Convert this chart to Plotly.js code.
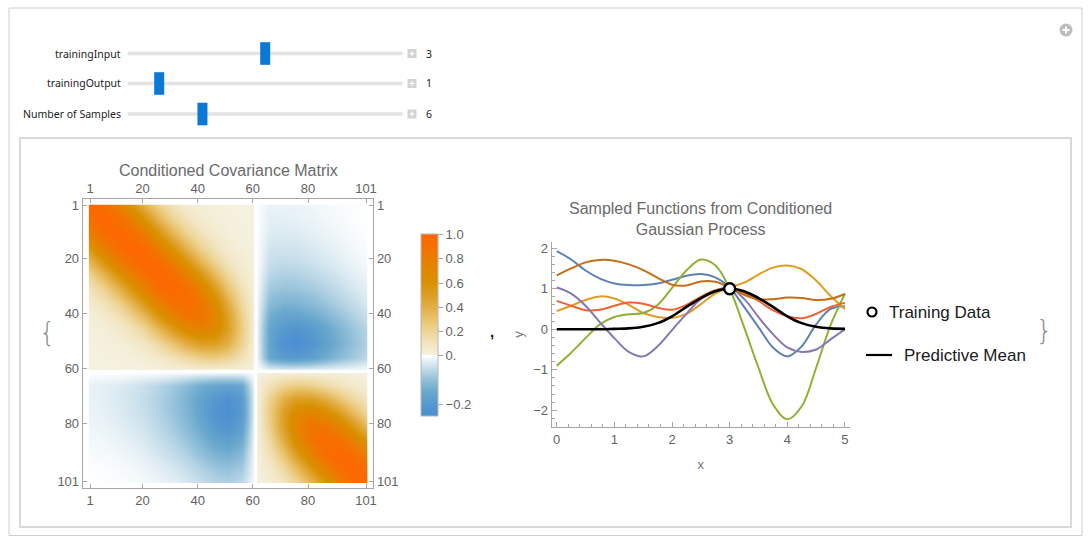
<!DOCTYPE html>
<html>
<head>
<meta charset="utf-8">
<script src="https://cdn.plot.ly/plotly-3.0.1.min.js"></script>
<style>
html,body{margin:0;padding:0;background:#ffffff;}
#chart{width:1091px;height:537px;}
</style>
</head>
<body>
<div id="chart"></div>
<script>
// ------------------------- DATA -------------------------
// Manipulate controls
const sliderLabels = ["trainingInput", "trainingOutput", "Number of Samples"];
const sliderValues = [3, 1, 6];
const sliderMin = [1, 0, 1];
const sliderMax = [5, 10, 20];

// Conditioned covariance matrix (101x101), read on every 5th row/column
const matrixIdx = [1,6,11,16,21,26,31,36,41,46,51,56,61,66,71,76,81,86,91,96,101];
const matrixTicks = [1,20,40,60,80,101];
const trainingIndex = 61;
// upper triangle, row i holds columns i..20
const covUpper = [
 [1.000,0.939,0.779,0.570,0.368,0.210,0.105,0.047,0.018,0.006,0.002,0.001,0,-0.020,-0.020,-0.018,-0.014,-0.010,-0.006,-0.003,-0.001],
 [1.000,0.939,0.779,0.570,0.368,0.210,0.105,0.047,0.018,0.006,0.001,0,-0.025,-0.025,-0.022,-0.018,-0.013,-0.008,-0.004,-0.002],
 [1.000,0.939,0.779,0.570,0.368,0.209,0.105,0.046,0.017,0.005,0,-0.030,-0.032,-0.030,-0.025,-0.018,-0.012,-0.007,-0.003],
 [1.000,0.939,0.778,0.569,0.367,0.207,0.102,0.042,0.012,0,-0.040,-0.042,-0.040,-0.034,-0.026,-0.018,-0.011,-0.006],
 [1.000,0.939,0.777,0.566,0.361,0.199,0.091,0.030,0,-0.050,-0.055,-0.052,-0.045,-0.036,-0.026,-0.017,-0.010],
 [0.998,0.934,0.769,0.553,0.341,0.173,0.061,0,-0.065,-0.072,-0.070,-0.062,-0.050,-0.038,-0.026,-0.016],
 [0.989,0.917,0.740,0.510,0.286,0.111,0,-0.085,-0.095,-0.093,-0.083,-0.068,-0.053,-0.038,-0.025],
 [0.956,0.862,0.659,0.407,0.171,0,-0.110,-0.125,-0.122,-0.110,-0.092,-0.072,-0.053,-0.036],
 [0.865,0.730,0.492,0.224,0,-0.140,-0.165,-0.165,-0.148,-0.125,-0.098,-0.073,-0.052],
 [0.675,0.496,0.244,0,-0.160,-0.200,-0.215,-0.195,-0.160,-0.125,-0.093,-0.068],
 [0.394,0.208,0,-0.165,-0.225,-0.240,-0.215,-0.175,-0.135,-0.100,-0.075],
 [0.118,0,-0.155,-0.190,-0.195,-0.175,-0.145,-0.112,-0.085,-0.062],
 [0,0,0,0,0,0,0,0,0],
 [0.118,0.208,0.244,0.224,0.171,0.111,0.061,0.030],
 [0.394,0.496,0.492,0.407,0.286,0.173,0.091],
 [0.675,0.730,0.659,0.510,0.341,0.199],
 [0.865,0.862,0.740,0.553,0.361],
 [0.956,0.917,0.769,0.566],
 [0.989,0.934,0.777],
 [0.998,0.939],
 [1.000]
];
const colorbarTicks = [1.0, 0.8, 0.6, 0.4, 0.2, 0, -0.2];
const colorbarLabels = ["1.0", "0.8", "0.6", "0.4", "0.2", "0.", "\u22120.2"];

// Sampled functions
const xGrid = [0,0.25,0.5,0.75,1,1.25,1.5,1.75,2,2.25,2.5,2.75,3,3.25,3.5,3.75,4,4.25,4.5,4.75,5];
const sampleBlue   = [1.93,1.72,1.45,1.25,1.13,1.09,1.09,1.13,1.22,1.32,1.36,1.28,1.03,0.55,0.05,-0.45,-0.67,-0.42,0.12,0.50,0.57];
const sampleGold   = [0.45,0.58,0.72,0.81,0.76,0.60,0.40,0.30,0.28,0.38,0.62,0.88,1.03,1.15,1.35,1.52,1.57,1.48,1.20,0.82,0.50];
const sampleGreen  = [-0.90,-0.58,-0.22,0.12,0.30,0.37,0.40,0.60,1.02,1.45,1.72,1.58,1.00,0.05,-0.95,-1.85,-2.22,-1.90,-0.95,0.10,0.88];
const sampleRed    = [0.70,0.58,0.47,0.48,0.58,0.66,0.63,0.53,0.48,0.60,0.80,0.96,1.02,0.90,0.70,0.47,0.32,0.27,0.38,0.55,0.65];
const samplePurple = [1.03,0.88,0.58,0.17,-0.22,-0.56,-0.67,-0.42,-0.02,0.38,0.75,0.95,1.02,0.75,0.30,-0.12,-0.45,-0.56,-0.50,-0.25,0.00];
const sampleBrown  = [1.33,1.50,1.65,1.71,1.69,1.60,1.46,1.27,1.10,1.08,1.18,1.17,1.03,0.85,0.74,0.74,0.78,0.77,0.72,0.75,0.87];
const predictiveMean = [0,0,0,0,0.01,0.02,0.06,0.15,0.32,0.55,0.77,0.94,1.00,0.94,0.77,0.55,0.32,0.15,0.06,0.02,0.01];
const trainingX = [3];
const trainingY = [1];
const sampleNames = ["Sample 1","Sample 2","Sample 3","Sample 4","Sample 5","Sample 6"];
const sampleColors = ["#5e81b5","#e19c24","#8fb032","#eb6235","#8778b3","#c56e1a"];

// ------------------------- BUILD -------------------------
const W = 1091, H = 537;
const fx = p => p / W;
const fy = p => 1 - p / H;
const FONT = '"Liberation Sans", Arial, sans-serif';
const UIFONT = '"Noto Sans", "Open Sans", sans-serif';
const TICKGRAY = '#636363';
const AXGRAY = '#a6a6a6';

// full symmetric matrix from the upper triangle
const n = matrixIdx.length;
const cov = [];
for (let i = 0; i < n; i++) {
  cov.push([]);
  for (let j = 0; j < n; j++) {
    cov[i].push(i <= j ? covUpper[i][j - i] : covUpper[j][i - j]);
  }
}
// colour coordinate: legend of the original stretches the negative side by 2
const toColor = v => (v < 0 ? 2 * v : v);
const zColor = cov.map(r => r.map(toColor));

// frame geometry (pixels)
const frameL = 82.7, frameR = 373.3, frameT = 199.3, frameB = 488.3;
const frameXRange = [-1.645, 103.645];
const frameYRange = [103.4, -1.4];
const lin = (v, r0, r1, p0, p1) => p0 + (v - r0) / (r1 - r0) * (p1 - p0);
const cellLo = matrixIdx[0] - 0.5, cellHi = matrixIdx[n - 1] + 0.5;
const imgL = lin(cellLo, frameXRange[0], frameXRange[1], frameL, frameR);
const imgR = lin(cellHi, frameXRange[0], frameXRange[1], frameL, frameR);
const imgT = lin(cellLo, frameYRange[1], frameYRange[0], frameT, frameB);
const imgB = lin(cellHi, frameYRange[1], frameYRange[0], frameT, frameB);

const colorscale = [
  [0.0, '#4a8cd4'],
  [0.0667, '#5699cf'],
  [0.1333, '#6aa8cd'],
  [0.2, '#93c0da'],
  [0.2667, '#c8dfeb'],
  [0.3333, '#ffffff'],
  [0.33345, '#f5f1df'],
  [0.4, '#f2e4bd'],
  [0.4667, '#eed496'],
  [0.5333, '#e9c26a'],
  [0.6, '#e3ae45'],
  [0.6667, '#dd9e22'],
  [0.7333, '#d99100'],
  [0.8, '#e18700'],
  [0.8667, '#eb7c00'],
  [0.9333, '#f57100'],
  [1.0, '#ff6600']
];

const traces = [];
// empty traces so that the frame axes get drawn
traces.push({type:'scatter', x:[], y:[], xaxis:'x', yaxis:'y', hoverinfo:'skip', showlegend:false});
traces.push({type:'scatter', x:[], y:[], xaxis:'x2', yaxis:'y2', hoverinfo:'skip', showlegend:false});

traces.push({
  type:'heatmap', xaxis:'x3', yaxis:'y3',
  x: matrixIdx, y: matrixIdx, z: zColor, customdata: cov,
  hovertemplate:'%{y}, %{x}: %{customdata}<extra></extra>',
  zsmooth:'best', zmin: toColor(-0.25), zmax: 1, colorscale: colorscale,
  colorbar: {
    x: fx(421), xanchor:'left', xpad:0,
    y: fy(234.5), yanchor:'top', ypad:0,
    len: 182, lenmode:'pixels', thickness:17, thicknessmode:'pixels',
    outlinewidth:1, outlinecolor:'#b8b8b8', borderwidth:0,
    ticks:'outside', ticklen:5, tickcolor:AXGRAY, tickwidth:1,
    tickvals: colorbarTicks.map(toColor), ticktext: colorbarLabels,
    tickfont:{family:FONT, size:13, color:TICKGRAY}
  }
});
// zero-variance row and column of the training input
const whiteScale = [[0,'#ffffff'],[1,'#ffffff']];
traces.push({type:'heatmap', xaxis:'x3', yaxis:'y3', z:[[0]],
  x:[trainingIndex - 0.5, trainingIndex + 0.5], y:[cellLo, cellHi],
  colorscale:whiteScale, showscale:false, hoverinfo:'skip'});
traces.push({type:'heatmap', xaxis:'x3', yaxis:'y3', z:[[0]],
  x:[cellLo, cellHi], y:[trainingIndex - 0.5, trainingIndex + 0.5],
  colorscale:whiteScale, showscale:false, hoverinfo:'skip'});

// sampled functions
const samples = [sampleBlue, sampleGold, sampleGreen, sampleRed, samplePurple, sampleBrown];
samples.forEach((s, k) => {
  traces.push({type:'scatter', mode:'lines', xaxis:'x4', yaxis:'y4',
    x: xGrid, y: s, name: sampleNames[k],
    line:{color: sampleColors[k], width:2, shape:'spline', smoothing:1}});
});
traces.push({type:'scatter', mode:'lines', xaxis:'x4', yaxis:'y4',
  x: xGrid, y: predictiveMean, name:'Predictive Mean',
  line:{color:'#000000', width:2.6, shape:'spline', smoothing:1}});
traces.push({type:'scatter', mode:'markers', xaxis:'x4', yaxis:'y4',
  x: trainingX, y: trainingY, name:'Training Data',
  marker:{symbol:'circle', size:11, color:'#ffffff', line:{color:'#000000', width:2.4}}});

// axes
const frameAxis = {
  showline:true, linecolor:AXGRAY, linewidth:1, mirror:false,
  ticks:'inside', ticklen:4, tickcolor:AXGRAY, tickwidth:1,
  tickmode:'array', tickvals: matrixTicks,
  tickfont:{family:FONT, size:13, color:TICKGRAY},
  showgrid:false, zeroline:false, fixedrange:true
};
const plotAxis = {
  showline:true, linecolor:AXGRAY, linewidth:1,
  ticks:'inside', ticklen:5, tickcolor:AXGRAY, tickwidth:1,
  tick0:0, dtick:1,
  minor:{ticks:'inside', ticklen:3, tickcolor:AXGRAY, tick0:0, dtick:0.2, showgrid:false},
  tickfont:{family:FONT, size:13, color:TICKGRAY},
  showgrid:false, zeroline:false, fixedrange:true
};

// shapes and annotations for the Manipulate panel
const shapes = [];
const annotations = [];
const rectPx = (x0, y0, x1, y1, o) => Object.assign({type:'rect', xref:'paper', yref:'paper',
  x0:fx(x0), x1:fx(x1), y0:fy(y1), y1:fy(y0), layer:'above'}, o);
const linePx = (x0, y0, x1, y1, o) => Object.assign({type:'line', xref:'paper', yref:'paper',
  x0:fx(x0), x1:fx(x1), y0:fy(y0), y1:fy(y1), layer:'above'}, o);
const textPx = (x, y, t, o) => Object.assign({xref:'paper', yref:'paper', x:fx(x), y:fy(y),
  text:t, showarrow:false, xanchor:'center', yanchor:'middle'}, o);

shapes.push(rectPx(9, 8, 1082, 535.5, {line:{color:'#cfcfcf', width:1}}));
shapes.push(rectPx(20, 138, 1071, 527, {line:{color:'#d9d9d9', width:2}}));
// add-panel icon
shapes.push({type:'circle', xref:'paper', yref:'paper', x0:fx(1059.5), x1:fx(1072.5), y0:fy(36.5), y1:fy(23.5),
  fillcolor:'#bdbdbd', line:{width:0}, layer:'above'});
shapes.push(linePx(1062.5, 30, 1069.5, 30, {line:{color:'#ffffff', width:2}}));
shapes.push(linePx(1066, 26.5, 1066, 33.5, {line:{color:'#ffffff', width:2}}));

const trackX0 = 127.7, trackX1 = 402.7, thumbW = 10;
const rowY = [53.5, 83.5, 114];
sliderLabels.forEach((lab, k) => {
  const y = rowY[k];
  annotations.push(textPx(123, y, lab, {xanchor:'right', font:{family:UIFONT, size:10.5, color:'#222222'}}));
  shapes.push(rectPx(trackX0, y - 1.7, trackX1, y + 1.7, {fillcolor:'#e3e3e3', line:{width:0}}));
  const frac = (sliderValues[k] - sliderMin[k]) / (sliderMax[k] - sliderMin[k]);
  const cx = trackX0 + thumbW / 2 + frac * (trackX1 - trackX0 - thumbW);
  shapes.push(rectPx(cx - thumbW / 2, y - 11.3, cx + thumbW / 2, y + 11.3, {fillcolor:'#0b78d8', line:{width:0}}));
  shapes.push(rectPx(407.5, y - 4.5, 416.5, y + 4.5, {fillcolor:'#d2d2d2', line:{width:0}}));
  shapes.push(linePx(409.5, y, 414.5, y, {line:{color:'#ffffff', width:1.2}}));
  shapes.push(linePx(412, y - 2.5, 412, y + 2.5, {line:{color:'#ffffff', width:1.2}}));
  annotations.push(textPx(424, y, String(sliderValues[k]), {xanchor:'left', font:{family:UIFONT, size:10.5, color:'#222222'}}));
});

// titles
annotations.push(textPx(228, 170.5, 'Conditioned Covariance Matrix', {font:{family:FONT, size:16, color:'#6a6a6a'}}));
annotations.push(textPx(700, 218.5, 'Sampled Functions from Conditioned<br>Gaussian Process', {font:{family:FONT, size:16, color:'#6a6a6a'}}));
// list braces and separator
annotations.push(textPx(47, 332, '{', {font:{family:'"DejaVu Sans", sans-serif', size:26, color:'#8a8a8a', weight:200}}));
annotations.push(textPx(1044, 330, '}', {font:{family:'"DejaVu Sans", sans-serif', size:26, color:'#8a8a8a', weight:200}}));
annotations.push(textPx(492, 331, '<b>,</b>', {font:{family:FONT, size:15, color:'#111111'}}));
// legend
shapes.push({type:'circle', xref:'paper', yref:'paper', x0:fx(867.5), x1:fx(876.5), y0:fy(316.5), y1:fy(307.5),
  fillcolor:'#ffffff', line:{color:'#000000', width:2.2}, layer:'above'});
annotations.push(textPx(887, 312, 'Training Data', {xanchor:'left', font:{family:FONT, size:17, color:'#1a1a1a'}}));
shapes.push(linePx(866, 355, 892, 355, {line:{color:'#000000', width:2.2}}));
annotations.push(textPx(902, 355, 'Predictive Mean', {xanchor:'left', font:{family:FONT, size:17, color:'#1a1a1a'}}));

const layout = {
  width: W, height: H,
  margin:{l:0, r:0, t:0, b:0, pad:0},
  paper_bgcolor:'#ffffff', plot_bgcolor:'rgba(0,0,0,0)',
  showlegend:false,
  font:{family:FONT, color:TICKGRAY},
  xaxis: Object.assign({}, frameAxis, {domain:[fx(frameL), fx(frameR)], range:frameXRange, anchor:'y', side:'bottom'}),
  xaxis2: Object.assign({}, frameAxis, {overlaying:'x', range:frameXRange, anchor:'y', side:'top'}),
  yaxis: Object.assign({}, frameAxis, {domain:[fy(frameB), fy(frameT)], range:frameYRange, anchor:'x', side:'left'}),
  yaxis2: Object.assign({}, frameAxis, {overlaying:'y', range:frameYRange, anchor:'x', side:'right'}),
  xaxis3: {domain:[fx(imgL), fx(imgR)], range:[cellLo, cellHi], anchor:'y3', visible:false, fixedrange:true},
  yaxis3: {domain:[fy(imgB), fy(imgT)], range:[cellHi, cellLo], anchor:'x3', visible:false, fixedrange:true},
  xaxis4: Object.assign({}, plotAxis, {domain:[fx(551.7), fx(850)], range:[-0.087, 5.087], anchor:'y4',
    title:{text:'x', font:{family:FONT, size:13, color:'#777777'}, standoff:13}}),
  yaxis4: Object.assign({}, plotAxis, {domain:[fy(427.3), fy(241.7)], range:[-2.42, 2.16], anchor:'x4',
    title:{text:'y', font:{family:FONT, size:13, color:'#777777'}, standoff:6}}),
  shapes: shapes,
  annotations: annotations
};

Plotly.newPlot('chart', traces, layout, {displayModeBar:false, staticPlot:true});
</script>
</body>
</html>
